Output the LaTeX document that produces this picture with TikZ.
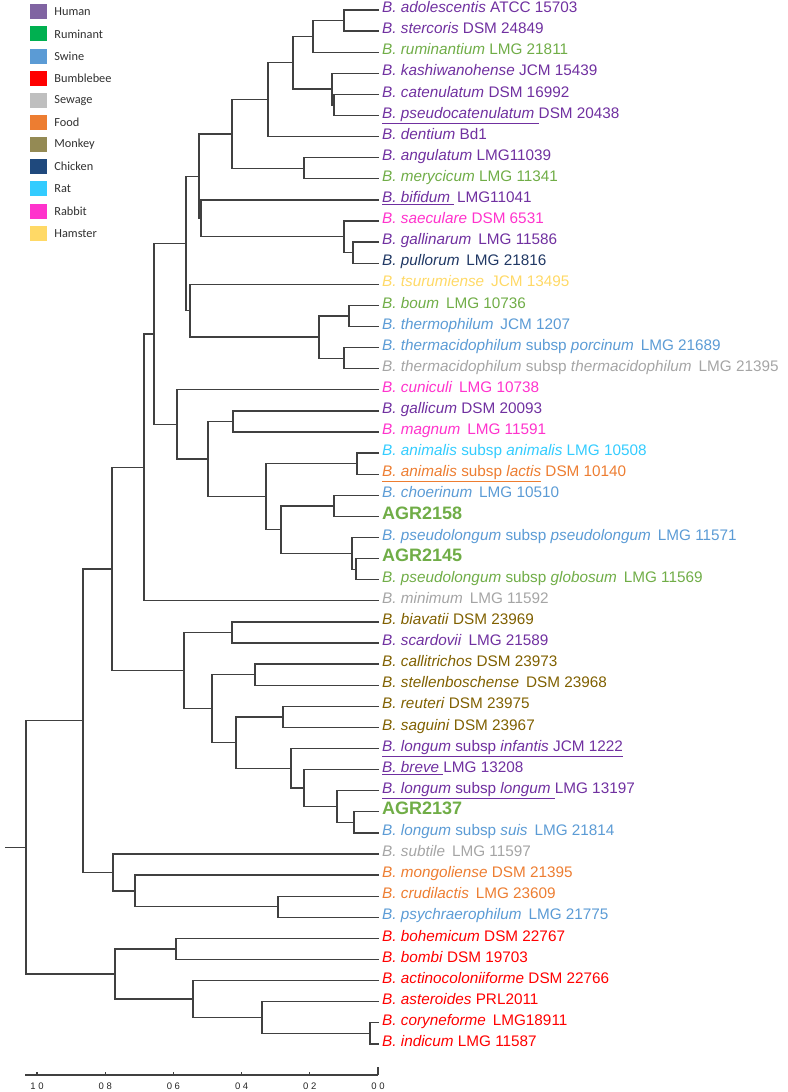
\documentclass[tikz,border=0pt]{standalone}
\usepackage{fontspec}
\setmainfont{Liberation Sans}
\newfontfamily\legendfont{Carlito}
\usetikzlibrary{calc,positioning}
\definecolor{branchgray}{HTML}{404040}
\definecolor{legendink}{HTML}{303030}
% text colours of the hosts
\definecolor{human}{HTML}{7030A0}
\definecolor{ruminant}{HTML}{70AD47}
\definecolor{swine}{HTML}{5B9BD5}
\definecolor{bee}{HTML}{FF0000}
\definecolor{sewage}{HTML}{A5A5A5}
\definecolor{food}{HTML}{ED7D31}
\definecolor{monkey}{HTML}{806000}
\definecolor{chicken}{HTML}{203864}
\definecolor{rat}{HTML}{33CCFF}
\definecolor{rabbit}{HTML}{FF33CC}
\definecolor{hamster}{HTML}{FFD966}
\definecolor{agr}{HTML}{70AD47}
% legend swatches
\definecolor{legHuman}{HTML}{8064A2}
\definecolor{legRuminant}{HTML}{00B050}
\definecolor{legSwine}{HTML}{5B9BD5}
\definecolor{legBumblebee}{HTML}{FF0000}
\definecolor{legSewage}{HTML}{BFBFBF}
\definecolor{legFood}{HTML}{ED7D31}
\definecolor{legMonkey}{HTML}{948A54}
\definecolor{legChicken}{HTML}{1F497D}
\definecolor{legRat}{HTML}{33CCFF}
\definecolor{legRabbit}{HTML}{FF33CC}
\definecolor{legHamster}{HTML}{FFD966}

\newcommand\isolate[1]{\fontsize{18}{20}\selectfont\bfseries #1}
\newcommand\gap{\hspace{.45em}}
% clade: name, x, upper child, lower child
\newcommand\clade[4]{%
  \path let \p1=(#3), \p2=(#4) in coordinate (#1) at (#2,{(\y1+\y2)/2});
  \draw[branch] (#3) -| (#1) |- (#4);}

\begin{document}
\begin{tikzpicture}[x=1pt,y=-1pt,
  branch/.style={draw=branchgray,line width=1.3pt},
  taxon/.style={anchor=mid west,inner xsep=3pt,inner ysep=1pt,
    font=\fontsize{15.3}{18}\selectfont},
  swatch/.style={minimum width=17pt,minimum height=15pt,inner sep=0pt},
  legtext/.style={font=\legendfont\fontsize{12.3}{14}\selectfont,
    text=legendink,inner sep=0pt}]
  \useasboundingbox (0,0) rectangle (787,1092);

  % legend
  \foreach \k/\nm in {0/Human,1/Ruminant,2/Swine,3/Bumblebee,4/Sewage,
    5/Food,6/Monkey,7/Chicken,8/Rat,9/Rabbit,10/Hamster}{
    \node[swatch,fill=leg\nm] (sw\k) at (38.5,{11.7+22.15*\k}) {};
    \node[legtext,right=7pt of sw\k] (lg\k) {\nm};
  }

  % tips and labels
  \foreach \i/\col/\txt in {
    1/human/{\textit{B. adolescentis} ATCC 15703},
    2/human/{\textit{B. stercoris} DSM 24849},
    3/ruminant/{\textit{B. ruminantium} LMG 21811},
    4/human/{\textit{B. kashiwanohense} JCM 15439},
    5/human/{\textit{B. catenulatum} DSM 16992},
    6/human/{\underline{\textit{B. pseudocatenulatum}\ }DSM 20438},
    7/human/{\textit{B. dentium} Bd1},
    8/human/{\textit{B. angulatum} LMG11039},
    9/ruminant/{\textit{B. merycicum} LMG 11341},
    10/human/{\underline{\textit{B. bifidum}\ }\,LMG11041},
    11/rabbit/{\textit{B. saeculare} DSM 6531},
    12/human/{\textit{B. gallinarum}\gap LMG 11586},
    13/chicken/{\textit{B. pullorum}\gap LMG 21816},
    14/hamster/{\textit{B. tsurumiense}\gap JCM 13495},
    15/ruminant/{\textit{B. boum}\gap LMG 10736},
    16/swine/{\textit{B. thermophilum}\gap JCM 1207},
    17/swine/{\textit{B. thermacidophilum} subsp \textit{porcinum}\gap LMG 21689},
    18/sewage/{\textit{B. thermacidophilum} subsp \textit{thermacidophilum}\gap LMG 21395},
    19/rabbit/{\textit{B. cuniculi}\gap LMG 10738},
    20/human/{\textit{B. gallicum} DSM 20093},
    21/rabbit/{\textit{B. magnum}\gap LMG 11591},
    22/rat/{\textit{B. animalis} subsp \textit{animalis} LMG 10508},
    23/food/{\underline{\textit{B. animalis} subsp \textit{lactis}} DSM 10140},
    24/swine/{\textit{B. choerinum}\gap LMG 10510},
    25/agr/{\isolate{AGR2158}},
    26/swine/{\textit{B. pseudolongum} subsp \textit{pseudolongum}\gap LMG 11571},
    27/agr/{\isolate{AGR2145}},
    28/ruminant/{\textit{B. pseudolongum} subsp \textit{globosum}\gap LMG 11569},
    29/sewage/{\textit{B. minimum}\gap LMG 11592},
    30/monkey/{\textit{B. biavatii} DSM 23969},
    31/human/{\textit{B. scardovii}\gap LMG 21589},
    32/monkey/{\textit{B. callitrichos} DSM 23973},
    33/monkey/{\textit{B. stellenboschense}\gap DSM 23968},
    34/monkey/{\textit{B. reuteri} DSM 23975},
    35/monkey/{\textit{B. saguini} DSM 23967},
    36/human/{\underline{\textit{B. longum} subsp \textit{infantis} JCM 1222}},
    37/human/{\underline{\textit{B. breve}\ }LMG 13208},
    38/human/{\underline{\textit{B. longum} subsp \textit{longum}\ }LMG 13197},
    39/agr/{\isolate{AGR2137}},
    40/swine/{\textit{B. longum} subsp \textit{suis}\gap LMG 21814},
    41/sewage/{\textit{B. subtile}\gap LMG 11597},
    42/food/{\textit{B. mongoliense} DSM 21395},
    43/food/{\textit{B. crudilactis}\gap LMG 23609},
    44/swine/{\textit{B. psychraerophilum}\gap LMG 21775},
    45/bee/{\textit{B. bohemicum} DSM 22767},
    46/bee/{\textit{B. bombi} DSM 19703},
    47/bee/{\textit{B. actinocoloniiforme} DSM 22766},
    48/bee/{\textit{B. asteroides} PRL2011},
    49/bee/{\textit{B. coryneforme}\gap LMG18911},
    50/bee/{\textit{B. indicum} LMG 11587}}{
    \coordinate (t\i) at (379,{10+21.1*(\i-1)});
    \node[taxon,text=\col] (l\i) at (t\i) {\txt};
  }

  % upper clade
  \clade{a1}{344}{t1}{t2}
  \clade{a2}{313}{a1}{t3}
  \clade{a3}{334}{t5}{t6}
  \clade{a4}{332}{t4}{a3}
  \clade{a5}{293}{a2}{a4}
  \clade{a6}{268}{a5}{t7}
  \clade{a7}{304}{t8}{t9}
  \clade{a8}{232}{a6}{a7}
  \clade{a9}{353}{t12}{t13}
  \clade{a10}{344}{t11}{a9}
  \clade{a11}{201}{t10}{a10}
  \clade{a12}{199}{a8}{a11}
  \clade{a13}{349}{t15}{t16}
  \clade{a14}{344}{t17}{t18}
  \clade{a15}{319}{a13}{a14}
  \clade{a16}{190}{t14}{a15}
  \clade{a17}{186}{a12}{a16}
  % pseudolongum clade
  \clade{b1}{233}{t20}{t21}
  \clade{b2}{357}{t22}{t23}
  \clade{b3}{334}{t24}{t25}
  \clade{b4}{356}{t27}{t28}
  \clade{b5}{352}{t26}{b4}
  \clade{b6}{281}{b3}{b5}
  \clade{b7}{266}{b2}{b6}
  \clade{b8}{208}{b1}{b7}
  \clade{b9}{177}{t19}{b8}
  \clade{b10}{154}{a17}{b9}
  \clade{b11}{144}{b10}{t29}
  % longum clade
  \clade{c1}{232}{t30}{t31}
  \clade{c2}{255}{t32}{t33}
  \clade{c3}{283}{t34}{t35}
  \clade{c4}{354}{t39}{t40}
  \clade{c5}{337}{t38}{c4}
  \clade{c6}{304}{t37}{c5}
  \clade{c7}{291}{t36}{c6}
  \clade{c8}{236}{c3}{c7}
  \clade{c9}{212}{c2}{c8}
  \clade{c10}{184}{c1}{c9}
  \clade{c11}{112}{b11}{c10}
  % subtile clade
  \clade{d1}{278}{t43}{t44}
  \clade{d2}{135}{t42}{d1}
  \clade{d3}{113}{t41}{d2}
  \clade{d4}{83}{c11}{d3}
  % bumblebee clade
  \clade{e1}{370}{t49}{t50}
  \clade{e2}{262}{t48}{e1}
  \clade{e3}{193}{t47}{e2}
  \clade{e4}{176}{t45}{t46}
  \clade{e5}{115}{e4}{e3}
  \clade{root}{26}{d4}{e5}
  \coordinate (stub) at ($(root)+(-21,0)$);
  \draw[branch] (stub) -- (root);

  % scale bar
  \coordinate (ax0) at (25,1075);
  \coordinate (ax1) at (378,1075);
  \draw[branch,line width=1.1pt] (ax0) -- (ax1);
  \foreach \v/\lab/\h in {0/0 0/8,0.2/0 2/3.5,0.4/0 4/3.5,
    0.6/0 6/3.5,0.8/0 8/3.5,1/1 0/3.5}{
    \draw[branch,line width=1.1pt] (378-341*\v,1075) -- ++(0,-\h);
    \node[font=\fontsize{9.5}{10}\selectfont,text=black!85,inner sep=0pt]
      (tk\lab) at (378-341*\v,1086) {\lab};
  }
\end{tikzpicture}
\end{document}
